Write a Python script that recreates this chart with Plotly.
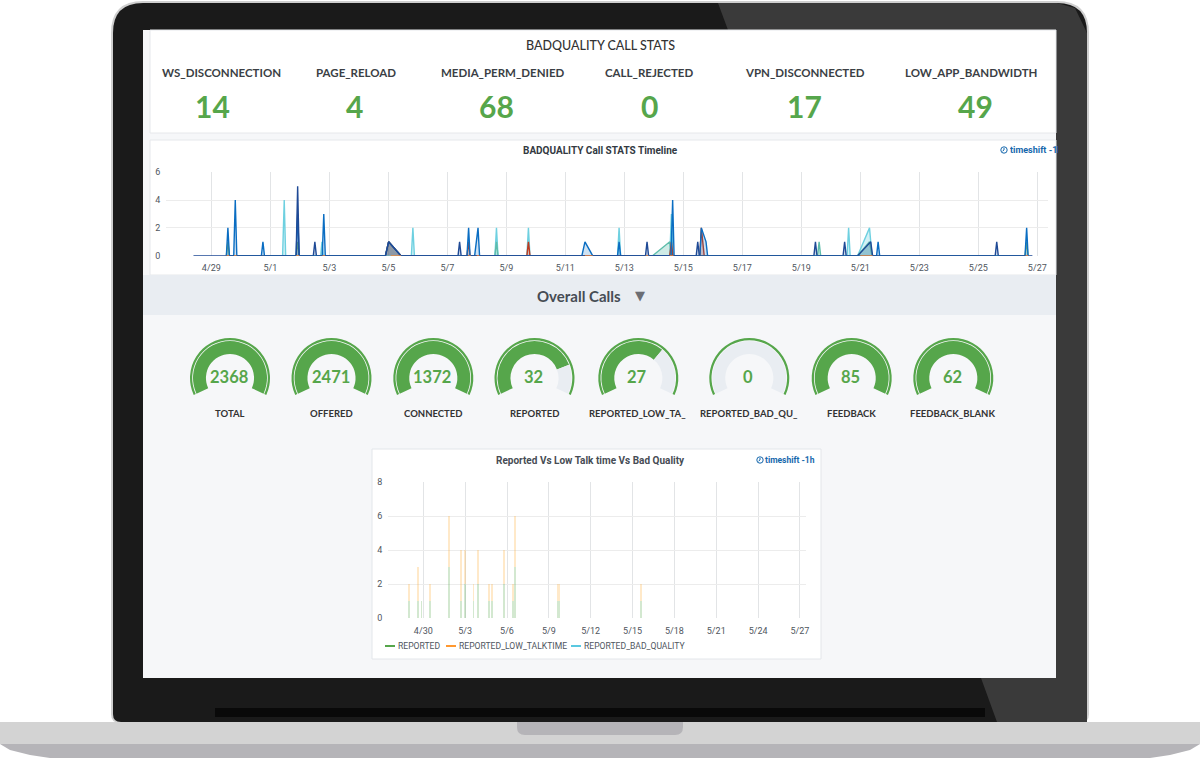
import pandas as pd
import plotly.graph_objects as go

FIG_W = 1200
FIG_H = 758
YEAR = "2020-"

# top stat row
STAT_NAMES = ["WS_DISCONNECTION", "PAGE_RELOAD", "MEDIA_PERM_DENIED", "CALL_REJECTED", "VPN_DISCONNECTED", "LOW_APP_BANDWIDTH"]
STAT_VALUES = [14, 4, 68, 0, 17, 49]

# timeline series: zero, peak, zero around each spike
WS_TIMES = ["04-28 09:30", "05-01 21:00", "05-01 22:15", "05-01 23:30", "05-02 11:00", "05-02 12:15", "05-02 13:30",
  "05-04 21:40", "05-05 00:15", "05-05 10:15", "05-07 08:45", "05-07 10:00", "05-07 11:15",
  "05-13 17:15", "05-13 18:30", "05-13 19:45", "05-15 10:30", "05-15 11:45", "05-15 13:00",
  "05-19 10:15", "05-19 11:30", "05-19 12:45", "05-20 10:00", "05-20 11:15", "05-20 12:30",
  "05-20 21:50", "05-21 08:30", "05-21 10:00", "05-25 13:45", "05-25 15:00", "05-25 16:15", "05-26 20:00"]
WS_VALUES = [0, 0, 5, 0, 0, 1, 0, 0, 1, 0, 0, 1, 0, 0, 1, 0, 0, 1, 0, 0, 1, 0, 0, 1, 0, 0, 1, 0, 0, 1, 0, 0]

RELOAD_TIMES = ["04-29 12:15", "04-29 13:30", "04-29 14:45", "04-29 18:15", "04-29 19:30", "04-29 20:45",
  "04-30 16:45", "04-30 18:00", "04-30 19:15", "05-01 21:00", "05-01 22:15", "05-01 23:30",
  "05-02 18:15", "05-02 19:30", "05-02 20:45", "05-04 21:40", "05-05 00:15", "05-05 10:15",
  "05-07 16:00", "05-07 17:20", "05-07 18:30", "05-07 22:15", "05-08 01:00", "05-08 02:15",
  "05-11 13:30", "05-11 16:00", "05-11 22:15", "05-12 18:30", "05-12 19:45", "05-12 21:00",
  "05-14 14:00", "05-14 15:20", "05-14 16:30", "05-15 13:30", "05-15 14:40", "05-15 18:30", "05-15 19:45",
  "05-21 13:15", "05-21 14:30", "05-21 15:45", "05-26 14:00", "05-26 15:20", "05-26 16:30"]
RELOAD_VALUES = [0, 2, 0, 0, 4, 0, 0, 1, 0, 0, 3, 0, 0, 3, 0, 0, 1, 0, 0, 2, 0, 0, 2, 0, 0, 1, 0, 0, 1, 0, 0, 4, 0, 0, 2, 1, 0, 0, 1, 0, 0, 2, 0]

MEDIA_TIMES = ["05-01 10:00", "05-01 11:20", "05-01 12:30", "05-02 17:00", "05-02 18:00", "05-02 19:00",
  "05-05 18:45", "05-05 20:00", "05-05 21:15", "05-08 14:45", "05-08 16:00", "05-08 17:15",
  "05-09 16:45", "05-09 18:00", "05-09 19:15", "05-12 18:30", "05-12 19:45", "05-12 21:00",
  "05-14 13:00", "05-14 14:20", "05-14 15:30", "05-20 13:15", "05-20 14:30", "05-20 15:45",
  "05-20 21:50", "05-21 07:30", "05-21 09:30"]
MEDIA_VALUES = [0, 4, 0, 0, 1, 0, 0, 2, 0, 0, 2, 0, 0, 2, 0, 0, 2, 0, 0, 3, 0, 0, 2, 0, 0, 2, 0]

BANDWIDTH_TIMES = ["05-08 14:45", "05-08 16:00", "05-08 17:15", "05-13 23:00", "05-14 13:00", "05-14 14:30",
  "05-19 13:15", "05-19 14:30", "05-19 15:45", "05-20 21:50", "05-21 07:30", "05-21 09:30"]
BANDWIDTH_VALUES = [0, 1, 0, 0, 1, 0, 0, 1, 0, 0, 1, 0]

VPN_TIMES = ["04-29 12:15", "04-29 13:30", "04-29 14:45", "05-01 21:00", "05-01 22:15", "05-01 23:30",
  "05-04 21:40", "05-05 00:15", "05-05 10:15", "05-26 14:00", "05-26 15:20", "05-26 16:30"]
VPN_VALUES = [0, 1, 0, 0, 1, 0, 0, 1, 0, 0, 1, 0]

REJECTED_TIMES = ["05-04 21:40", "05-05 00:15", "05-05 10:15", "05-07 16:00", "05-07 17:20", "05-07 18:30",
  "05-09 16:45", "05-09 18:00", "05-09 19:15", "05-14 13:00", "05-14 14:20", "05-14 15:30",
  "05-15 13:30", "05-15 14:40", "05-15 17:00"]
REJECTED_VALUES = [0, 1, 0, 0, 1, 0, 0, 1, 0, 0, 1, 0, 0, 2, 0]

# orange flecks that sit on the baseline next to the spikes
OTHER_TIMES = ["04-29 12:30", "04-29 14:30", None, "04-29 18:30", "04-29 20:30", None, "05-01 21:00", "05-01 23:30", None,
  "05-02 18:30", "05-02 20:30", None, "05-05 02:00", "05-05 10:15", None, "05-07 17:00", "05-07 19:00", None,
  "05-08 00:00", "05-08 02:00", None, "05-11 16:00", "05-11 22:15", None, "05-13 17:30", "05-13 19:30", None,
  "05-14 13:00", "05-14 16:00", None, "05-21 00:00", "05-21 10:00", None, "05-26 14:30", "05-26 16:30"]
OTHER_VALUES = [0, 0, None, 0, 0, None, 0, 0, None, 0, 0, None, 0, 0, None, 0, 0, None,
  0, 0, None, 0, 0, None, 0, 0, None, 0, 0, None, 0, 0, None, 0, 0]

TIMELINE_TICKS = ["04-29", "05-01", "05-03", "05-05", "05-07", "05-09", "05-11", "05-13", "05-15", "05-17", "05-19", "05-21", "05-23", "05-25", "05-27"]

# gauges
GAUGE_NAMES = ["TOTAL", "OFFERED", "CONNECTED", "REPORTED", "REPORTED_LOW_TA_", "REPORTED_BAD_QU_", "FEEDBACK", "FEEDBACK_BLANK"]
GAUGE_VALUES = [2368, 2471, 1372, 32, 27, 0, 85, 62]
GAUGE_MAX = 40

# lower bar panel
BAR_TIMES = ["04-28 23:00", "04-29 15:30", "04-29 20:45", "04-30 11:30", "05-01 20:00", "05-02 16:30", "05-03 00:00", "05-03 14:30",
  "05-03 22:15", "05-04 16:30", "05-04 22:50", "05-05 18:15", "05-06 10:15", "05-06 13:10", "05-09 15:00", "05-09 18:00", "05-15 15:00"]
REPORTED = [1, 1, 1, 1, 3, 1, 2, 1, 2, 1, 1, 2, 1, 3, 1, 1, 1]
REPORTED_LOW_TALKTIME = [1, 2, 0, 1, 3, 3, 2, 1, 2, 1, 1, 2, 1, 3, 1, 1, 1]
REPORTED_BAD_QUALITY = [0, 0, 0, 0, 0, 0, 0, 0, 0, 0, 0, 0, 0, 0, 0, 0, 0]
BAR_TICKS = ["04-30", "05-03", "05-06", "05-09", "05-12", "05-15", "05-18", "05-21", "05-24", "05-27"]

GREEN = "#56a64b"
GRID = "#ececec"
VGRID = "#e2e4e6"
TEXT = "#50565e"
BLUE = "#1668ad"


def px(x):
  return x / FIG_W


def py(y):
  return 1 - y / FIG_H


def dates(times):
  return [None if t is None else YEAR + t for t in times]


def poly(points, fill):
  """ Closed filled path from window pixel points. """
  path = "M " + " L ".join(f"{px(x):.5f},{py(y):.5f}" for x, y in points) + " Z"
  return dict(type="path", path=path, xref="paper", yref="paper", fillcolor=fill, line_width=0, layer="below")


def box(x0, y0, x1, y1, fill, line=None):
  return dict(type="rect", xref="paper", yref="paper", x0=px(x0), x1=px(x1), y0=py(y0), y1=py(y1),
    fillcolor=fill, line=dict(color=line or fill, width=1 if line else 0), layer="below")


def rounded(x0, y0, x1, y1, top_r, bottom_r, fill):
  """ Rounded rectangle as a path, corners drawn with quadratic curves. """
  def p(x, y):
    return f"{px(x):.5f},{py(y):.5f}"
  path = (f"M {p(x0 + top_r, y0)} L {p(x1 - top_r, y0)} Q {p(x1, y0)} {p(x1, y0 + top_r)} L {p(x1, y1 - bottom_r)} "
    f"Q {p(x1, y1)} {p(x1 - bottom_r, y1)} L {p(x0 + bottom_r, y1)} Q {p(x0, y1)} {p(x0, y1 - bottom_r)} "
    f"L {p(x0, y0 + top_r)} Q {p(x0, y0)} {p(x0 + top_r, y0)} Z")
  return dict(type="path", path=path, xref="paper", yref="paper", fillcolor=fill, line_width=0, layer="below")


def label(x, y, text, size, color, font="Lato", weight=400, **kwargs):
  return dict(xref="paper", yref="paper", x=px(x), y=py(y), text=text, showarrow=False, xanchor=kwargs.pop("xanchor", "center"),
    yanchor="middle", font=dict(family=font, size=size, color=color, weight=weight), **kwargs)


def clock(x, y):
  p = lambda a, b: f"{px(a):.5f},{py(b):.5f}"
  return [
    dict(type="circle", xref="paper", yref="paper", x0=px(x - 3.2), x1=px(x + 3.2), y0=py(y + 3.2), y1=py(y - 3.2),
      line=dict(color=BLUE, width=1), layer="below"),
    dict(type="path", xref="paper", yref="paper", path=f"M {p(x, y - 2)} L {p(x, y)} L {p(x - 1.5, y + 1.2)}",
      line=dict(color=BLUE, width=1), layer="below"),
  ]


# laptop body and dashboard panels, all in window pixels
shapes = [
  rounded(111, 1, 1089, 723, 32, 9, "#cfcfcf"),
  rounded(113, 3, 1087, 722, 30, 8, "#1a1a1a"),
  poly([(718, 3), (1057, 3), (1075, 8), (1087, 33), (1087, 722), (997, 722), (981, 678), (1056, 678), (1056, 30), (728, 30)], "#3a3a3a"),
  box(215, 708, 985, 717, "#090909"),
  box(0, 722, 1200, 744, "#d3d3d3"),
  poly([(0, 744), (1200, 744), (1190, 750), (1170, 755), (1150, 758), (50, 758), (30, 755), (10, 750)], "#b5b4b8"),
  rounded(517, 722, 683, 735, 0, 8, "#b5b4b8"),
  box(143, 30, 1056, 678, "#f6f7f9"),
  box(150, 30, 1056, 133, "#ffffff", "#e6e8eb"),
  box(150, 140, 1056, 275, "#ffffff", "#e6e8eb"),
  box(143, 275, 1056, 315, "#e9edf2"),
  box(372, 449, 821, 659, "#ffffff", "#e3e6ea"),
] + clock(1004, 150) + clock(760, 460)

annotations = [
  label(600, 45, "BADQUALITY CALL STATS", 12.5, "#333333", weight=500),
  label(579, 295.5, "Overall Calls", 15, "#464c54", weight=700),
  label(640, 295.5, "▼", 13, "#6b6e74", font="DejaVu Sans"),
  label(600, 150, "BADQUALITY Call STATS Timeline", 10, "#333a42", font="Roboto", weight=700),
  label(1008, 150, "timeshift -1h", 9, BLUE, font="Roboto", weight=700, xanchor="left", width=48, align="left"),
  label(590, 460, "Reported Vs Low Talk time Vs Bad Quality", 10, "#464c54", font="Roboto", weight=700),
  label(763, 460, "timeshift -1h", 8.5, BLUE, font="Roboto", weight=700, xanchor="left"),
]

stat_label_x = [221, 356, 503, 649, 805, 971]
stat_value_x = [212, 354, 496, 649, 804, 975]
for name, value, lx, vx in zip(STAT_NAMES, STAT_VALUES, stat_label_x, stat_value_x):
  annotations.append(label(lx, 72.5, name, 11.5, "#3b3f45", weight=700))
  annotations.append(label(vx, 105.5, str(value), 30, GREEN, weight=700))

fig = go.Figure()

# timeline, drawn back to front
timeline = [
  ("MEDIA_PERM_DENIED", MEDIA_TIMES, MEDIA_VALUES, "#6ed0e0", "rgba(110,208,224,0.3)"),
  ("LOW_APP_BANDWIDTH", BANDWIDTH_TIMES, BANDWIDTH_VALUES, "#5fbdab", "rgba(95,189,171,0.3)"),
  ("VPN_DISCONNECTED", VPN_TIMES, VPN_VALUES, "#7eb26d", "rgba(126,178,109,0.3)"),
  ("CALL_REJECTED", REJECTED_TIMES, REJECTED_VALUES, "#bf3b20", "rgba(191,59,32,0.25)"),
  ("PAGE_RELOAD", RELOAD_TIMES, RELOAD_VALUES, "#0a6dc2", "rgba(10,109,194,0.2)"),
  ("WS_DISCONNECTION", WS_TIMES, WS_VALUES, "#1f4a96", "rgba(31,74,150,0.2)"),
]
for name, times, values, color, fill in timeline:
  fig.add_trace(go.Scatter(x=dates(times), y=values, name=name, mode="lines", fill="tozeroy", fillcolor=fill,
    line=dict(color=color, width=1.4), cliponaxis=False, showlegend=False, xaxis="x", yaxis="y"))
fig.add_trace(go.Scatter(x=dates(OTHER_TIMES), y=OTHER_VALUES, name="OTHER", mode="lines",
  line=dict(color="#ef843c", width=1.4), cliponaxis=False, showlegend=False, xaxis="x", yaxis="y"))

# bars, stacked as in the source panel
bars = [
  ("REPORTED", REPORTED, "rgba(86,166,75,0.26)"),
  ("REPORTED_LOW_TALKTIME", REPORTED_LOW_TALKTIME, "rgba(255,170,48,0.26)"),
  ("REPORTED_BAD_QUALITY", REPORTED_BAD_QUALITY, "rgba(90,200,224,0.3)"),
]
for name, values, color in bars:
  fig.add_trace(go.Bar(x=dates(BAR_TIMES), y=values, name=name, marker=dict(color=color, line_width=0), width=11000000,
    showlegend=False, xaxis="x2", yaxis="y2"))

# legend of the bar panel, short line samples like the source
legend_items = [(385, "REPORTED", GREEN), (446, "REPORTED_LOW_TALKTIME", "#ff9830"), (571, "REPORTED_BAD_QUALITY", "#5ac8e0")]
for x, name, color in legend_items:
  shapes.append(dict(type="line", xref="paper", yref="paper", x0=px(x), x1=px(x + 10), y0=py(646), y1=py(646),
    line=dict(color=color, width=2), layer="below"))
  annotations.append(label(x + 11, 645.5, name, 8.6, TEXT, font="Roboto", xanchor="left"))

# gauges are donuts with the bottom sector left transparent
GAUGE_SPAN = 230
gauge_gap = GAUGE_MAX * (360 - GAUGE_SPAN) / GAUGE_SPAN
gauge_x = [230, 331.5, 433.3, 534.5, 638.3, 749.3, 851.7, 953.3]
GAUGE_Y = 378
for name, value, cx in zip(GAUGE_NAMES, GAUGE_VALUES, gauge_x):
  filled = min(value, GAUGE_MAX)
  for r, hole, vals, colors in [
    (40, 0.945, [GAUGE_MAX, gauge_gap], [GREEN, "rgba(0,0,0,0)"]),
    (37, 0.65, [filled, GAUGE_MAX - filled, gauge_gap], [GREEN, "#e9edf2", "rgba(0,0,0,0)"]),
  ]:
    fig.add_trace(go.Pie(values=vals, marker=dict(colors=colors, line_width=0), hole=hole, rotation=-115, sort=False,
      direction="clockwise", textinfo="none", hoverinfo="skip", showlegend=False,
      domain=dict(x=[px(cx - r), px(cx + r)], y=[py(GAUGE_Y + r), py(GAUGE_Y - r)])))
  annotations.append(label(cx - 1, 376.5, str(value), 16.5, GREEN, weight=700))
  annotations.append(label(cx - 0.5, 413.5, name, 9.5, "#333333", weight=700))


def day_offset(base, days):
  return pd.Timestamp(YEAR + base) + pd.Timedelta(days=days)


axis_font = dict(family="Roboto", size=9, color=TEXT)
hidden_ticks = dict(ticks="outside", tickcolor="rgba(0,0,0,0)")
timeline_px_per_day = 29.5
bar_px_per_day = 13.95

fig.update_layout(
  width=FIG_W, height=FIG_H, margin=dict(l=0, r=0, t=0, b=0), paper_bgcolor="#ffffff", plot_bgcolor="rgba(0,0,0,0)",
  showlegend=False, barmode="stack", shapes=shapes, annotations=annotations,
  xaxis=dict(domain=[px(166), px(1048)], anchor="y", type="date", automargin=False, ticklen=3, **hidden_ticks,
    range=[day_offset("04-29", (166 - 211.3) / timeline_px_per_day), day_offset("04-29", (1048 - 211.3) / timeline_px_per_day)],
    tickvals=dates(TIMELINE_TICKS), tickformat="%-m/%-d", gridcolor=VGRID, gridwidth=1, tickfont=axis_font,
    showline=False, zeroline=False),
  yaxis=dict(domain=[py(255.7), py(172.3)], anchor="x", range=[0, 6], dtick=2, gridcolor=GRID, tickfont=axis_font,
    zeroline=False, showline=False, automargin=False, ticklen=3, **hidden_ticks),
  xaxis2=dict(domain=[px(388), px(806)], anchor="y2", type="date", automargin=False, ticklen=4, **hidden_ticks,
    range=[day_offset("04-30", (388 - 423.3) / bar_px_per_day), day_offset("04-30", (806 - 423.3) / bar_px_per_day)],
    tickvals=dates(BAR_TICKS), tickformat="%-m/%-d", gridcolor=VGRID, gridwidth=1, tickfont=axis_font,
    showline=False, zeroline=False),
  yaxis2=dict(domain=[py(618.3), py(482.3)], anchor="x2", range=[0, 8], dtick=2, gridcolor=GRID, tickfont=axis_font,
    zeroline=False, showline=False, automargin=False, ticklen=3, **hidden_ticks),
)

# the page must start at the window corner, the default body margin would shift everything
fig.write_html("out.html", config={"displayModeBar": False},
  post_script="document.body.style.margin = '0'; document.body.style.overflow = 'hidden';")
